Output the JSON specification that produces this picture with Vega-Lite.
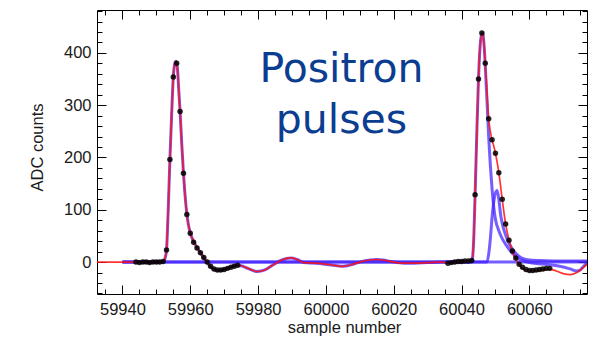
{
  "$schema": "https://vega.github.io/schema/vega-lite/v6.json",
  "width": 490,
  "height": 284,
  "autosize": {"type": "none"},
  "padding": {"left": 97, "top": 10, "right": 7, "bottom": 44},
  "background": "white",
  "config": {
    "view": {"stroke": "#000", "strokeWidth": 1},
    "axis": {
      "domain": false,
      "grid": false,
      "tickColor": "#000",
      "tickWidth": 1,
      "labelFont": "Liberation Sans",
      "labelFontSize": 16.5,
      "labelColor": "#1a1a1a",
      "titleFont": "Liberation Sans",
      "titleFontSize": 16.5,
      "titleFontWeight": "normal",
      "titleColor": "#1a1a1a",
      "labelOverlap": false,
      "labelFlush": false
    }
  },
  "datasets": {
    "curves": [
      {"series": "fit", "x": 59930, "y": 0},
      {"series": "fit", "x": 59945, "y": 0},
      {"series": "fit", "x": 59951, "y": 0},
      {"series": "fit", "x": 59952, "y": 1},
      {"series": "fit", "x": 59952.5, "y": 6},
      {"series": "fit", "x": 59953, "y": 23},
      {"series": "fit", "x": 59953.5, "y": 100},
      {"series": "fit", "x": 59954, "y": 196},
      {"series": "fit", "x": 59954.5, "y": 280},
      {"series": "fit", "x": 59955, "y": 354},
      {"series": "fit", "x": 59955.5, "y": 381},
      {"series": "fit", "x": 59955.8, "y": 384},
      {"series": "fit", "x": 59956.2, "y": 372},
      {"series": "fit", "x": 59956.6, "y": 330},
      {"series": "fit", "x": 59957, "y": 288},
      {"series": "fit", "x": 59957.5, "y": 225},
      {"series": "fit", "x": 59958, "y": 170},
      {"series": "fit", "x": 59958.5, "y": 125},
      {"series": "fit", "x": 59959, "y": 92},
      {"series": "fit", "x": 59959.5, "y": 70},
      {"series": "fit", "x": 59960, "y": 56},
      {"series": "fit", "x": 59961, "y": 39},
      {"series": "fit", "x": 59962, "y": 28},
      {"series": "fit", "x": 59963, "y": 18},
      {"series": "fit", "x": 59964, "y": 8},
      {"series": "fit", "x": 59965, "y": -1},
      {"series": "fit", "x": 59966, "y": -9},
      {"series": "fit", "x": 59967, "y": -14},
      {"series": "fit", "x": 59968, "y": -16},
      {"series": "fit", "x": 59969, "y": -16},
      {"series": "fit", "x": 59970, "y": -14},
      {"series": "fit", "x": 59971, "y": -12},
      {"series": "fit", "x": 59972, "y": -9},
      {"series": "fit", "x": 59973, "y": -7},
      {"series": "fit", "x": 59974, "y": -6},
      {"series": "fit", "x": 59975, "y": -7},
      {"series": "fit", "x": 59977, "y": -12},
      {"series": "fit", "x": 59979.7, "y": -18},
      {"series": "fit", "x": 59982, "y": -15},
      {"series": "fit", "x": 59984.5, "y": -5},
      {"series": "fit", "x": 59987, "y": 4},
      {"series": "fit", "x": 59989.6, "y": 8},
      {"series": "fit", "x": 59991.5, "y": 5},
      {"series": "fit", "x": 59993.5, "y": -1},
      {"series": "fit", "x": 59997, "y": -2},
      {"series": "fit", "x": 60001, "y": -5},
      {"series": "fit", "x": 60005, "y": -8},
      {"series": "fit", "x": 60008, "y": -4},
      {"series": "fit", "x": 60010, "y": 0},
      {"series": "fit", "x": 60013, "y": 4},
      {"series": "fit", "x": 60015, "y": 5},
      {"series": "fit", "x": 60017, "y": 4},
      {"series": "fit", "x": 60020, "y": 0},
      {"series": "fit", "x": 60023, "y": -2},
      {"series": "fit", "x": 60026, "y": -2},
      {"series": "fit", "x": 60030, "y": -1},
      {"series": "fit", "x": 60034, "y": 0},
      {"series": "fit", "x": 60036, "y": -1},
      {"series": "fit", "x": 60038, "y": 0},
      {"series": "fit", "x": 60040, "y": 1},
      {"series": "fit", "x": 60042, "y": 2},
      {"series": "fit", "x": 60043, "y": 3},
      {"series": "fit", "x": 60043.5, "y": 30},
      {"series": "fit", "x": 60044, "y": 129},
      {"series": "fit", "x": 60044.5, "y": 245},
      {"series": "fit", "x": 60045, "y": 350},
      {"series": "fit", "x": 60045.5, "y": 415},
      {"series": "fit", "x": 60046, "y": 438},
      {"series": "fit", "x": 60046.3, "y": 436},
      {"series": "fit", "x": 60046.7, "y": 410},
      {"series": "fit", "x": 60047, "y": 382},
      {"series": "fit", "x": 60047.5, "y": 325},
      {"series": "fit", "x": 60048, "y": 274},
      {"series": "fit", "x": 60048.5, "y": 250},
      {"series": "fit", "x": 60049, "y": 233},
      {"series": "fit", "x": 60049.5, "y": 222},
      {"series": "fit", "x": 60050, "y": 208},
      {"series": "fit", "x": 60050.5, "y": 191},
      {"series": "fit", "x": 60051, "y": 171},
      {"series": "fit", "x": 60052, "y": 120},
      {"series": "fit", "x": 60053, "y": 73},
      {"series": "fit", "x": 60054, "y": 42},
      {"series": "fit", "x": 60055, "y": 21},
      {"series": "fit", "x": 60056, "y": 6},
      {"series": "fit", "x": 60057, "y": -5},
      {"series": "fit", "x": 60058, "y": -12},
      {"series": "fit", "x": 60059, "y": -16},
      {"series": "fit", "x": 60060, "y": -17},
      {"series": "fit", "x": 60062, "y": -17},
      {"series": "fit", "x": 60064, "y": -15},
      {"series": "fit", "x": 60066, "y": -14},
      {"series": "fit", "x": 60068, "y": -17},
      {"series": "fit", "x": 60070, "y": -22},
      {"series": "fit", "x": 60072, "y": -24},
      {"series": "fit", "x": 60074, "y": -20},
      {"series": "fit", "x": 60076, "y": -10},
      {"series": "fit", "x": 60077, "y": -4},

      {"series": "c1", "x": 59940, "y": 0},
      {"series": "c1", "x": 59951, "y": 0},
      {"series": "c1", "x": 59952, "y": 1},
      {"series": "c1", "x": 59952.5, "y": 6},
      {"series": "c1", "x": 59953, "y": 23},
      {"series": "c1", "x": 59953.5, "y": 100},
      {"series": "c1", "x": 59954, "y": 196},
      {"series": "c1", "x": 59954.5, "y": 280},
      {"series": "c1", "x": 59955, "y": 354},
      {"series": "c1", "x": 59955.5, "y": 381},
      {"series": "c1", "x": 59955.8, "y": 384},
      {"series": "c1", "x": 59956.2, "y": 372},
      {"series": "c1", "x": 59956.6, "y": 330},
      {"series": "c1", "x": 59957, "y": 288},
      {"series": "c1", "x": 59957.5, "y": 225},
      {"series": "c1", "x": 59958, "y": 170},
      {"series": "c1", "x": 59958.5, "y": 125},
      {"series": "c1", "x": 59959, "y": 92},
      {"series": "c1", "x": 59959.5, "y": 70},
      {"series": "c1", "x": 59960, "y": 56},
      {"series": "c1", "x": 59961, "y": 39},
      {"series": "c1", "x": 59962, "y": 28},
      {"series": "c1", "x": 59963, "y": 18},
      {"series": "c1", "x": 59964, "y": 8},
      {"series": "c1", "x": 59965, "y": -1},
      {"series": "c1", "x": 59966, "y": -9},
      {"series": "c1", "x": 59967, "y": -14},
      {"series": "c1", "x": 59968, "y": -16},
      {"series": "c1", "x": 59969, "y": -16},
      {"series": "c1", "x": 59970, "y": -14},
      {"series": "c1", "x": 59971, "y": -12},
      {"series": "c1", "x": 59972, "y": -9},
      {"series": "c1", "x": 59973, "y": -7},
      {"series": "c1", "x": 59974, "y": -6},
      {"series": "c1", "x": 59975, "y": -7},
      {"series": "c1", "x": 59977, "y": -12},
      {"series": "c1", "x": 59979.7, "y": -18},
      {"series": "c1", "x": 59982, "y": -15},
      {"series": "c1", "x": 59984.5, "y": -5},
      {"series": "c1", "x": 59987, "y": 4},
      {"series": "c1", "x": 59989.6, "y": 8},
      {"series": "c1", "x": 59991.5, "y": 5},
      {"series": "c1", "x": 59993.5, "y": -1},
      {"series": "c1", "x": 59997, "y": -2},
      {"series": "c1", "x": 60001, "y": -5},
      {"series": "c1", "x": 60005, "y": -8},
      {"series": "c1", "x": 60008, "y": -4},
      {"series": "c1", "x": 60010, "y": 0},
      {"series": "c1", "x": 60013, "y": 4},
      {"series": "c1", "x": 60015, "y": 5},
      {"series": "c1", "x": 60017, "y": 4},
      {"series": "c1", "x": 60020, "y": 0},
      {"series": "c1", "x": 60023, "y": -2},
      {"series": "c1", "x": 60026, "y": -2},
      {"series": "c1", "x": 60030, "y": -1},
      {"series": "c1", "x": 60034, "y": 0},
      {"series": "c1", "x": 60077, "y": 0},

      {"series": "c2", "x": 59940, "y": 0},
      {"series": "c2", "x": 60043, "y": 0},
      {"series": "c2", "x": 60043.5, "y": 30},
      {"series": "c2", "x": 60044, "y": 129},
      {"series": "c2", "x": 60044.5, "y": 245},
      {"series": "c2", "x": 60045, "y": 350},
      {"series": "c2", "x": 60045.5, "y": 415},
      {"series": "c2", "x": 60046, "y": 438},
      {"series": "c2", "x": 60046.3, "y": 436},
      {"series": "c2", "x": 60046.7, "y": 410},
      {"series": "c2", "x": 60047, "y": 375},
      {"series": "c2", "x": 60047.5, "y": 310},
      {"series": "c2", "x": 60048, "y": 240},
      {"series": "c2", "x": 60048.5, "y": 185},
      {"series": "c2", "x": 60049, "y": 140},
      {"series": "c2", "x": 60049.5, "y": 105},
      {"series": "c2", "x": 60050, "y": 82},
      {"series": "c2", "x": 60051, "y": 60},
      {"series": "c2", "x": 60052, "y": 45},
      {"series": "c2", "x": 60053, "y": 34},
      {"series": "c2", "x": 60054, "y": 25},
      {"series": "c2", "x": 60055, "y": 17},
      {"series": "c2", "x": 60056, "y": 11},
      {"series": "c2", "x": 60057, "y": 6},
      {"series": "c2", "x": 60058, "y": 3},
      {"series": "c2", "x": 60059, "y": 1},
      {"series": "c2", "x": 60060, "y": -1},
      {"series": "c2", "x": 60063, "y": -3},
      {"series": "c2", "x": 60066, "y": -5},
      {"series": "c2", "x": 60069, "y": -8},
      {"series": "c2", "x": 60072, "y": -13},
      {"series": "c2", "x": 60074, "y": -17},
      {"series": "c2", "x": 60075, "y": -15},
      {"series": "c2", "x": 60076, "y": -8},
      {"series": "c2", "x": 60077, "y": -2},

      {"series": "c3", "x": 59940, "y": 0},
      {"series": "c3", "x": 60047.5, "y": 0},
      {"series": "c3", "x": 60048, "y": 15},
      {"series": "c3", "x": 60048.5, "y": 45},
      {"series": "c3", "x": 60049, "y": 85},
      {"series": "c3", "x": 60049.5, "y": 115},
      {"series": "c3", "x": 60050, "y": 132},
      {"series": "c3", "x": 60050.5, "y": 137},
      {"series": "c3", "x": 60051, "y": 120},
      {"series": "c3", "x": 60051.5, "y": 92},
      {"series": "c3", "x": 60052, "y": 74},
      {"series": "c3", "x": 60053, "y": 52},
      {"series": "c3", "x": 60054, "y": 36},
      {"series": "c3", "x": 60055, "y": 25},
      {"series": "c3", "x": 60056, "y": 17},
      {"series": "c3", "x": 60057, "y": 11},
      {"series": "c3", "x": 60058, "y": 7},
      {"series": "c3", "x": 60059, "y": 5},
      {"series": "c3", "x": 60060, "y": 4},
      {"series": "c3", "x": 60063, "y": 3},
      {"series": "c3", "x": 60068, "y": 2},
      {"series": "c3", "x": 60077, "y": 2}
    ],
    "samples": [
      {"x": 59944, "y": 0}, {"x": 59945, "y": -1}, {"x": 59946, "y": 0}, {"x": 59947, "y": 0},
      {"x": 59948, "y": -1}, {"x": 59949, "y": 0}, {"x": 59950, "y": 0}, {"x": 59951, "y": 0},
      {"x": 59952, "y": 1}, {"x": 59953, "y": 23}, {"x": 59954, "y": 196}, {"x": 59955, "y": 354},
      {"x": 59956, "y": 380}, {"x": 59957, "y": 288}, {"x": 59958, "y": 170}, {"x": 59959, "y": 91},
      {"x": 59960, "y": 55}, {"x": 59961, "y": 38}, {"x": 59962, "y": 27}, {"x": 59963, "y": 18},
      {"x": 59964, "y": 9}, {"x": 59965, "y": 0}, {"x": 59966, "y": -8}, {"x": 59967, "y": -13},
      {"x": 59968, "y": -15}, {"x": 59969, "y": -15}, {"x": 59970, "y": -14}, {"x": 59971, "y": -12},
      {"x": 59972, "y": -10}, {"x": 59973, "y": -8}, {"x": 59974, "y": -6},
      {"x": 60036, "y": -2}, {"x": 60037, "y": -1}, {"x": 60038, "y": 0}, {"x": 60039, "y": 1},
      {"x": 60040, "y": 1}, {"x": 60041, "y": 2}, {"x": 60042, "y": 2}, {"x": 60043, "y": 3},
      {"x": 60044, "y": 129}, {"x": 60045, "y": 350}, {"x": 60046, "y": 438}, {"x": 60047, "y": 380},
      {"x": 60048, "y": 274}, {"x": 60049, "y": 234}, {"x": 60050, "y": 208}, {"x": 60051, "y": 171},
      {"x": 60052, "y": 120}, {"x": 60053, "y": 73}, {"x": 60054, "y": 42}, {"x": 60055, "y": 21},
      {"x": 60056, "y": 8}, {"x": 60057, "y": -4}, {"x": 60058, "y": -10}, {"x": 60059, "y": -14},
      {"x": 60060, "y": -16}, {"x": 60061, "y": -16}, {"x": 60062, "y": -15}, {"x": 60063, "y": -14},
      {"x": 60064, "y": -13}, {"x": 60065, "y": -12}, {"x": 60066, "y": -12}
    ],
    "label": [
      {"x": 60004.6, "y": 344.5, "text": "Positron"},
      {"x": 60004.6, "y": 247, "text": "pulses"}
    ]
  },
  "layer": [
    {
      "data": {"name": "curves"},
      "transform": [{"filter": "datum.series !== 'fit'"}],
      "mark": {"type": "line", "color": "#4020ff", "strokeWidth": 3, "opacity": 0.72, "interpolate": "monotone", "clip": true},
      "encoding": {
        "x": {
          "field": "x", "type": "quantitative",
          "scale": {"domain": [59932.5, 60077], "nice": false, "zero": false},
          "axis": {
            "orient": "bottom",
            "title": "sample number",
            "values": [59935,59940,59945,59950,59955,59960,59965,59970,59975,59980,59985,59990,59995,60000,60005,60010,60015,60020,60025,60030,60035,60040,60045,60050,60055,60060,60065,60070,60075],
            "format": "d",
            "labelExpr": "datum.value % 20 === 0 ? datum.label : ''",
            "tickSize": {"condition": {"test": "datum.value % 20 === 0", "value": -9}, "value": -5},
            "labelPadding": 16,
            "titleX": 247,
            "titleY": 38,
            "titleBaseline": "alphabetic",
            "titleAnchor": "middle"
          }
        },
        "y": {
          "field": "y", "type": "quantitative",
          "scale": {"domain": [-61, 482], "nice": false, "zero": false},
          "axis": {
            "orient": "left",
            "title": "ADC counts",
            "values": [-60,-40,-20,0,20,40,60,80,100,120,140,160,180,200,220,240,260,280,300,320,340,360,380,400,420,440,460,480],
            "format": "d",
            "labelExpr": "datum.value % 100 === 0 ? datum.label : ''",
            "tickSize": {"condition": {"test": "datum.value % 100 === 0", "value": -9}, "value": -5},
            "labelPadding": 15,
            "titleX": -55,
            "titleY": 137,
            "titleBaseline": "alphabetic",
            "titleAngle": -90,
            "titleAlign": "center"
          }
        },
        "detail": {"field": "series"}
      }
    },
    {
      "data": {"name": "curves"},
      "transform": [{"filter": "datum.series === 'fit'"}],
      "mark": {"type": "line", "color": "#ff1010", "strokeWidth": 1.7, "opacity": 0.85, "interpolate": "monotone", "clip": true},
      "encoding": {
        "x": {
          "field": "x", "type": "quantitative",
          "axis": {
            "orient": "top", "title": null, "labels": false,
            "values": [59935,59940,59945,59950,59955,59960,59965,59970,59975,59980,59985,59990,59995,60000,60005,60010,60015,60020,60025,60030,60035,60040,60045,60050,60055,60060,60065,60070,60075],
            "tickSize": {"condition": {"test": "datum.value % 20 === 0", "value": -9}, "value": -5}
          }
        },
        "y": {
          "field": "y", "type": "quantitative",
          "axis": {
            "orient": "right", "title": null, "labels": false,
            "values": [-60,-40,-20,0,20,40,60,80,100,120,140,160,180,200,220,240,260,280,300,320,340,360,380,400,420,440,460,480],
            "tickSize": {"condition": {"test": "datum.value % 100 === 0", "value": -9}, "value": -5}
          }
        }
      }
    },
    {
      "data": {"name": "samples"},
      "mark": {"type": "point", "filled": true, "color": "#000", "size": 30, "opacity": 0.85, "clip": true},
      "encoding": {
        "x": {"field": "x", "type": "quantitative", "axis": null},
        "y": {"field": "y", "type": "quantitative", "axis": null}
      }
    },
    {
      "data": {"name": "label"},
      "mark": {"type": "text", "font": "DejaVu Sans", "fontSize": 41, "color": "#0b3d91", "align": "center", "baseline": "alphabetic"},
      "encoding": {
        "x": {"field": "x", "type": "quantitative", "axis": null},
        "y": {"field": "y", "type": "quantitative", "axis": null},
        "text": {"field": "text"}
      }
    }
  ],
  "resolve": {"axis": {"x": "independent", "y": "independent"}}
}
